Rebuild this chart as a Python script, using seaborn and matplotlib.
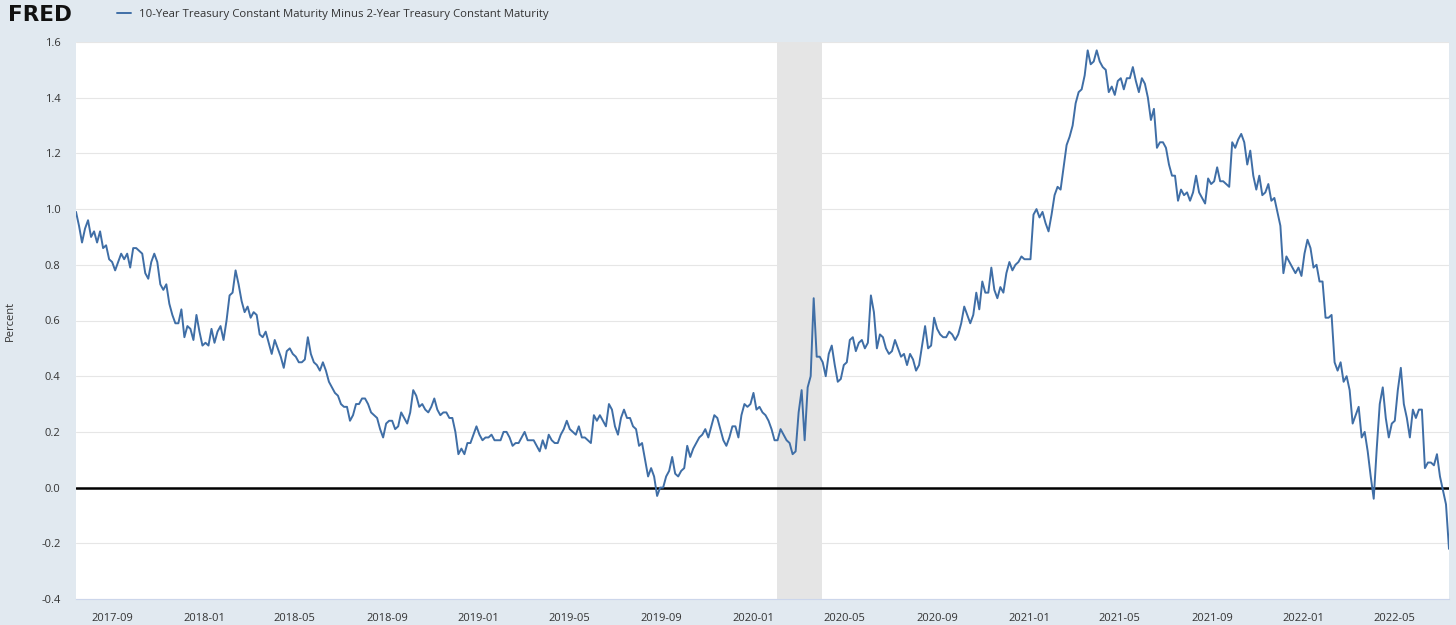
"""FRED-style chart: 10Y minus 2Y Treasury spread, mid-2017 to mid-2022."""
import matplotlib
matplotlib.use("Agg")
import matplotlib.dates as mdates
import matplotlib.pyplot as plt
import pandas as pd
import seaborn as sns

# values, one every 4 days from 2017-07-15
spread = [
    0.99, 0.94, 0.88, 0.93, 0.96, 0.90, 0.92, 0.88, 0.92, 0.86,
    0.87, 0.82, 0.81, 0.78, 0.81, 0.84, 0.82, 0.84, 0.79, 0.86,
    0.86, 0.85, 0.84, 0.77, 0.75, 0.81, 0.84, 0.81, 0.73, 0.71,
    0.73, 0.66, 0.62, 0.59, 0.59, 0.64, 0.54, 0.58, 0.57, 0.53,
    0.62, 0.56, 0.51, 0.52, 0.51, 0.57, 0.52, 0.56, 0.58, 0.53,
    0.60, 0.69, 0.70, 0.78, 0.73, 0.67, 0.63, 0.65, 0.61, 0.63,
    0.62, 0.55, 0.54, 0.56, 0.52, 0.48, 0.53, 0.50, 0.47, 0.43,
    0.49, 0.50, 0.48, 0.47, 0.45, 0.45, 0.46, 0.54, 0.48, 0.45,
    0.44, 0.42, 0.45, 0.42, 0.38, 0.36, 0.34, 0.33, 0.30, 0.29,
    0.29, 0.24, 0.26, 0.30, 0.30, 0.32, 0.32, 0.30, 0.27, 0.26,
    0.25, 0.21, 0.18, 0.23, 0.24, 0.24, 0.21, 0.22, 0.27, 0.25,
    0.23, 0.27, 0.35, 0.33, 0.29, 0.30, 0.28, 0.27, 0.29, 0.32,
    0.28, 0.26, 0.27, 0.27, 0.25, 0.25, 0.20, 0.12, 0.14, 0.12,
    0.16, 0.16, 0.19, 0.22, 0.19, 0.17, 0.18, 0.18, 0.19, 0.17,
    0.17, 0.17, 0.20, 0.20, 0.18, 0.15, 0.16, 0.16, 0.18, 0.20,
    0.17, 0.17, 0.17, 0.15, 0.13, 0.17, 0.14, 0.19, 0.17, 0.16,
    0.16, 0.19, 0.21, 0.24, 0.21, 0.20, 0.19, 0.22, 0.18, 0.18,
    0.17, 0.16, 0.26, 0.24, 0.26, 0.24, 0.22, 0.30, 0.28, 0.22,
    0.19, 0.25, 0.28, 0.25, 0.25, 0.22, 0.21, 0.15, 0.16, 0.10,
    0.04, 0.07, 0.04, -0.03, 0.00, 0.00, 0.04, 0.06, 0.11, 0.05,
    0.04, 0.06, 0.07, 0.15, 0.11, 0.14, 0.16, 0.18, 0.19, 0.21,
    0.18, 0.22, 0.26, 0.25, 0.21, 0.17, 0.15, 0.18, 0.22, 0.22,
    0.18, 0.26, 0.30, 0.29, 0.30, 0.34, 0.28, 0.29, 0.27, 0.26,
    0.24, 0.21, 0.17, 0.17, 0.21, 0.19, 0.17, 0.16, 0.12, 0.13,
    0.27, 0.35, 0.17, 0.36, 0.40, 0.68, 0.47, 0.47, 0.45, 0.40,
    0.48, 0.51, 0.44, 0.38, 0.39, 0.44, 0.45, 0.53, 0.54, 0.49,
    0.52, 0.53, 0.50, 0.52, 0.69, 0.63, 0.50, 0.55, 0.54, 0.50,
    0.48, 0.49, 0.53, 0.50, 0.47, 0.48, 0.44, 0.48, 0.46, 0.42,
    0.44, 0.51, 0.58, 0.50, 0.51, 0.61, 0.57, 0.55, 0.54, 0.54,
    0.56, 0.55, 0.53, 0.55, 0.59, 0.65, 0.62, 0.59, 0.62, 0.70,
    0.64, 0.74, 0.70, 0.70, 0.79, 0.71, 0.68, 0.72, 0.70, 0.77,
    0.81, 0.78, 0.80, 0.81, 0.83, 0.82, 0.82, 0.82, 0.98, 1.00,
    0.97, 0.99, 0.95, 0.92, 0.98, 1.05, 1.08, 1.07, 1.15, 1.23,
    1.26, 1.30, 1.38, 1.42, 1.43, 1.48, 1.57, 1.52, 1.53, 1.57,
    1.53, 1.51, 1.50, 1.42, 1.44, 1.41, 1.46, 1.47, 1.43, 1.47,
    1.47, 1.51, 1.46, 1.42, 1.47, 1.45, 1.40, 1.32, 1.36, 1.22,
    1.24, 1.24, 1.22, 1.16, 1.12, 1.12, 1.03, 1.07, 1.05, 1.06,
    1.03, 1.06, 1.12, 1.06, 1.04, 1.02, 1.11, 1.09, 1.10, 1.15,
    1.10, 1.10, 1.09, 1.08, 1.24, 1.22, 1.25, 1.27, 1.24, 1.16,
    1.21, 1.12, 1.07, 1.12, 1.05, 1.06, 1.09, 1.03, 1.04, 0.99,
    0.94, 0.77, 0.83, 0.81, 0.79, 0.77, 0.79, 0.76, 0.84, 0.89,
    0.86, 0.79, 0.80, 0.74, 0.74, 0.61, 0.61, 0.62, 0.45, 0.42,
    0.45, 0.38, 0.40, 0.35, 0.23, 0.26, 0.29, 0.18, 0.20, 0.13,
    0.04, -0.04, 0.14, 0.30, 0.36, 0.25, 0.18, 0.23, 0.24, 0.35,
    0.43, 0.30, 0.25, 0.18, 0.28, 0.25, 0.28, 0.28, 0.07, 0.09,
    0.09, 0.08, 0.12, 0.04, -0.01, -0.06, -0.22,
]
start_date = "2017-07-15"
recession = ("2020-02-01", "2020-04-01")
series_label = "10-Year Treasury Constant Maturity Minus 2-Year Treasury Constant Maturity"
y_ticks = [-0.4, -0.2, 0.0, 0.2, 0.4, 0.6, 0.8, 1.0, 1.2, 1.4, 1.6]

BG = "#e1e9f0"
LINE = "#3f6ea6"
TEXT = "#333333"

df = pd.DataFrame({
    "date": pd.date_range(start_date, periods=len(spread), freq="4D"),
    "spread": spread,
})

sns.set_theme(style="white")
plt.rcParams["font.family"] = ["Open Sans", "DejaVu Sans"]

fig = plt.figure(figsize=(14.56, 6.25), dpi=100, facecolor=BG)
ax = fig.add_axes([76 / 1456, 1 - 599 / 625, (1449 - 76) / 1456, (599 - 42) / 625])
ax.set_facecolor("white")

ax.axvspan(pd.Timestamp(recession[0]), pd.Timestamp(recession[1]),
           color="#e5e5e5", lw=0, zorder=1)
ax.axhline(0, color="black", lw=1.8, zorder=2)
sns.lineplot(data=df, x="date", y="spread", ax=ax, color=LINE, lw=1.4,
             estimator=None, zorder=3, label=series_label, legend=False)

ax.set_xlim(df["date"].iloc[0], df["date"].iloc[-1])
ax.set_ylim(-0.4, 1.6)
ax.set_yticks(y_ticks)
ax.set_yticklabels([f"{t:.1f}" for t in y_ticks])
ax.yaxis.grid(True, color="#e6e6e6", lw=0.8, zorder=0)
ax.set_axisbelow(True)

ax.xaxis.set_major_locator(mdates.MonthLocator(bymonth=[1, 5, 9]))
ax.xaxis.set_major_formatter(mdates.DateFormatter("%Y-%m"))
ax.tick_params(axis="x", direction="out", length=7, width=0.8, color="#ccd6eb",
               labelsize=8, labelcolor=TEXT, pad=3)
ax.tick_params(axis="y", length=0, labelsize=8, labelcolor=TEXT, pad=11)

for side in ["left", "right", "top"]:
    ax.spines[side].set_visible(False)
ax.spines["bottom"].set_color("#ccd6eb")
ax.spines["bottom"].set_linewidth(0.8)

ax.set_xlabel("")
ax.set_ylabel("Percent", fontsize=8, color=TEXT, labelpad=18)

fig.text(8 / 1456, 1 - 15 / 625, "FRED", fontsize=15.5, fontweight="bold",
         family="DejaVu Sans", color="#111111", va="center", ha="left")
handles, labels = ax.get_legend_handles_labels()
fig.legend(handles, labels, loc="center left", bbox_to_anchor=(117 / 1456, 1 - 14 / 625),
           frameon=False, fontsize=8.2, labelcolor=TEXT, handlelength=1.2,
           handletextpad=0.7, borderpad=0, borderaxespad=0)

fig.savefig("out.png", dpi=100, facecolor=BG)
